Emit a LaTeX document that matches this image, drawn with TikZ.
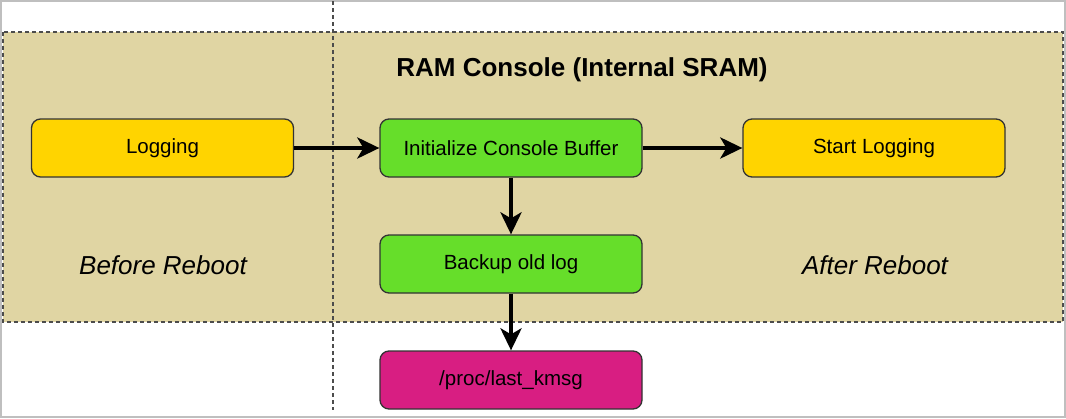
\documentclass[tikz,border=0pt]{standalone}
\usepackage{fontspec}
\setmainfont{Liberation Sans}
\usetikzlibrary{arrows.meta}

\definecolor{regiontan}{RGB}{224,213,163}
\definecolor{logyellow}{RGB}{255,212,0}
\definecolor{bufgreen}{RGB}{102,222,42}
\definecolor{procpink}{RGB}{216,30,130}

\tikzset{
  stepbox/.style={draw=black!80, line width=1.3pt, rounded corners=9pt, minimum width=262pt,
    minimum height=58pt, font=\fontsize{20.5}{24}\selectfont, inner sep=0pt},
  flow/.style={line width=4pt, -{Stealth[length=22pt,width=21pt,inset=6pt]}}
}

\begin{document}
\begin{tikzpicture}[x=1pt,y=-1pt]
  % Frame the picture
  \useasboundingbox (0,0) rectangle (1066,418);
  \draw[black!25, line width=1.5pt] (1,1) rectangle (1065,417);

  % Draw the RAM region
  \fill[regiontan] (3,32) rectangle (1063,322);
  \draw[black!70, line width=1.5pt, dash pattern=on 4pt off 3pt] (3,32) rectangle (1063,322);
  \draw[black!70, line width=1.5pt, dash pattern=on 4pt off 3pt] (333,1) -- (333,410);
  \node[font=\fontsize{26}{30}\selectfont\bfseries] (title) at (582,70) {RAM Console (Internal SRAM)};

  % Draw the boxes
  \node[stepbox, fill=logyellow] (logging) at (162.5,148) {Logging};
  \node[stepbox, fill=bufgreen] (init) at (511,148) {Initialize Console Buffer};
  \node[stepbox, fill=logyellow] (start) at (874,148) {Start Logging};
  \node[stepbox, fill=bufgreen] (backup) at (511,264) {Backup old log};
  \node[stepbox, fill=procpink] (proc) at (511,380) {/proc/last\_kmsg};

  % Add the region labels
  \node[font=\fontsize{26}{30}\selectfont\itshape] (before) at (163,265) {Before Reboot};
  \node[font=\fontsize{26}{30}\selectfont\itshape] (after) at (875,265) {After Reboot};

  % Draw the arrows
  \draw[flow] (logging) -- (init);
  \draw[flow] (init) -- (start);
  \draw[flow] (init) -- (backup);
  \draw[flow] (backup) -- (proc);
\end{tikzpicture}
\end{document}
